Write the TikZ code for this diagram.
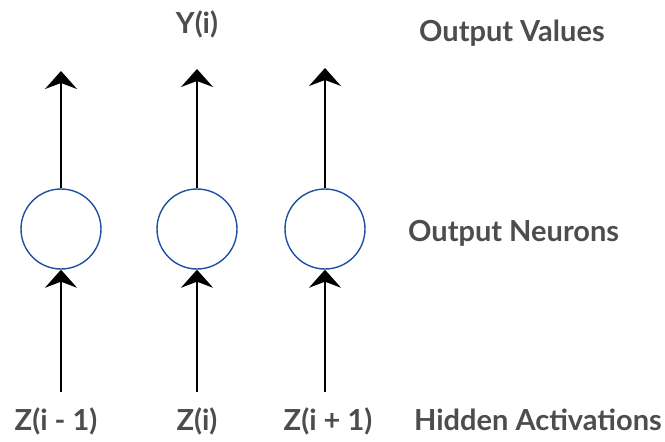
\documentclass[tikz,border=0pt]{standalone}
\usepackage{fontspec}
\setmainfont{Lato}
\usetikzlibrary{arrows.meta}
\definecolor{labelgrey}{HTML}{4D4D4D}
\definecolor{neuronblue}{HTML}{1F4FA0}
\begin{document}
\begin{tikzpicture}[x=1pt,y=-1pt,
  neuron/.style={circle,draw=neuronblue,line width=1.4pt,minimum size=80pt,inner sep=0pt},
  arr/.style={line width=2pt,-{Stealth[length=18pt,width=32pt,inset=6pt]}},
  lbl/.style={text=labelgrey,font=\fontsize{29}{33}\selectfont\bfseries,inner sep=0pt}]
\useasboundingbox (0,0) rectangle (665,442);

% output neurons
\node[neuron] (n1) at (61,229) {};
\node[neuron] (n2) at (197,229) {};
\node[neuron] (n3) at (325,229) {};

% arrow ends
\coordinate (t1) at (61,71);
\coordinate (t2) at (197,69);
\coordinate (t3) at (325,68);
\coordinate (b1) at (61,392);
\coordinate (b2) at (197,392);
\coordinate (b3) at (325,392);

% outgoing and incoming connections
\draw[arr] (n1.north) -- (t1);
\draw[arr] (n2.north) -- (t2);
\draw[arr] (n3.north) -- (t3);
\draw[arr] (b1) -- (n1.south);
\draw[arr] (b2) -- (n2.south);
\draw[arr] (b3) -- (n3.south);

% labels
\node[lbl,anchor=base] (y) at (197,33) {Y(i)};
\node[lbl,anchor=base west] (ov) at (419,41) {Output Values};
\node[lbl,anchor=base west] (on) at (408,241) {Output Neurons};
\node[lbl,anchor=base] (z1) at (56,430) {Z(i - 1)};
\node[lbl,anchor=base] (z2) at (197,430) {Z(i)};
\node[lbl,anchor=base] (z3) at (328,430) {Z(i + 1)};
\node[lbl,anchor=base west] (ha) at (414,430) {Hidden Activations};
\end{tikzpicture}
\end{document}
